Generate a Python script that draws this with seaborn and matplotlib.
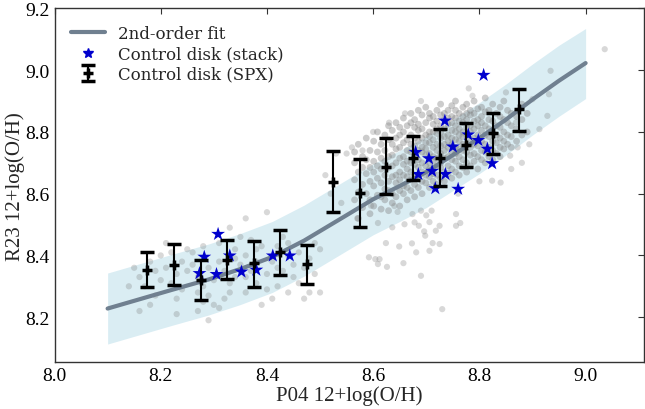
import numpy as np
import pandas as pd
import seaborn as sns
import matplotlib
matplotlib.use("Agg")
import matplotlib.pyplot as plt
from matplotlib.lines import Line2D

# 2nd-order fit curve and its band
fit_x = [8.10, 8.16, 8.22, 8.29, 8.35, 8.41, 8.47, 8.54, 8.60, 8.65, 8.70, 8.75, 8.80, 8.85, 8.90, 8.95, 9.00]
fit_y = [8.228, 8.258, 8.288, 8.322, 8.356, 8.395, 8.448, 8.520, 8.582, 8.625, 8.670, 8.725, 8.780, 8.840, 8.905, 8.966, 9.023]
band_lo = [8.113, 8.143, 8.173, 8.207, 8.241, 8.280, 8.333, 8.405, 8.467, 8.510, 8.555, 8.610, 8.665, 8.725, 8.790, 8.851, 8.908]
band_hi = [8.343, 8.373, 8.403, 8.437, 8.471, 8.510, 8.563, 8.635, 8.697, 8.740, 8.785, 8.840, 8.895, 8.955, 9.020, 9.081, 9.135]

# binned SPX values with error bars
spx_x = [8.175, 8.225, 8.275, 8.325, 8.375, 8.425, 8.475, 8.525, 8.575, 8.625, 8.675, 8.725, 8.775, 8.825, 8.875]
spx_y = [8.353, 8.370, 8.320, 8.386, 8.374, 8.410, 8.371, 8.637, 8.602, 8.688, 8.714, 8.714, 8.758, 8.796, 8.873]
spx_lo = [0.055, 0.066, 0.064, 0.063, 0.076, 0.073, 0.064, 0.097, 0.109, 0.090, 0.070, 0.090, 0.071, 0.066, 0.069]
spx_hi = [0.058, 0.067, 0.066, 0.064, 0.073, 0.072, 0.062, 0.101, 0.111, 0.091, 0.073, 0.094, 0.070, 0.066, 0.067]

# stacked spectra
stack_x = [8.308, 8.282, 8.273, 8.305, 8.330, 8.352, 8.380, 8.411, 8.443,
           8.680, 8.685, 8.705, 8.711, 8.717, 8.735, 8.736, 8.750, 8.760,
           8.779, 8.798, 8.808, 8.815, 8.824]
stack_y = [8.469, 8.395, 8.342, 8.339, 8.399, 8.347, 8.353, 8.399, 8.399,
           8.734, 8.663, 8.714, 8.673, 8.617, 8.836, 8.663, 8.752, 8.615,
           8.791, 8.773, 8.984, 8.745, 8.698]

# individual spaxels: sparse points
sparse_x = [8.16, 8.17, 8.18, 8.19, 8.20, 8.20, 8.19, 8.21, 8.16, 8.14, 8.15, 8.18,
            8.22, 8.23, 8.24, 8.22, 8.24, 8.25, 8.23, 8.21, 8.25, 8.23,
            8.26, 8.27, 8.28, 8.27, 8.29, 8.28, 8.26, 8.30, 8.29, 8.28, 8.27, 8.30, 8.29,
            8.31, 8.32, 8.33, 8.34, 8.31, 8.33, 8.35, 8.32, 8.34, 8.35, 8.33, 8.31, 8.34,
            8.36, 8.37, 8.38, 8.39, 8.36, 8.38, 8.40, 8.37, 8.39, 8.40, 8.38, 8.36,
            8.41, 8.42, 8.43, 8.44, 8.42, 8.45, 8.41, 8.44, 8.43, 8.45, 8.42, 8.44,
            8.46, 8.47, 8.48, 8.49, 8.46, 8.48, 8.47, 8.50, 8.49, 8.50, 8.36, 8.40,
            8.53, 8.55, 8.56, 8.58, 8.52, 8.54, 8.51, 8.57,
            8.596, 8.609, 8.640, 8.646, 8.624, 8.649, 8.673, 8.681, 8.592, 8.604, 8.612,
            8.609, 8.626, 8.657, 8.690, 8.730, 8.706, 8.725, 8.712, 8.698, 8.696, 8.659,
            8.678, 8.686, 8.718, 8.725, 8.756, 8.764, 8.756, 8.706, 8.700, 8.710, 8.690,
            8.674, 8.636, 8.600, 8.630, 8.660, 8.690,
            8.824, 8.840, 8.858, 8.872, 8.894, 8.913, 8.928, 8.934, 8.869, 8.850,
            8.780, 8.787, 8.900, 8.931, 9.036, 8.880, 8.860, 8.760, 8.800]
sparse_y = [8.33, 8.30, 8.38, 8.35, 8.32, 8.40, 8.27, 8.36, 8.22, 8.30, 8.36, 8.24,
            8.41, 8.34, 8.38, 8.31, 8.29, 8.42, 8.26, 8.44, 8.35, 8.21,
            8.37, 8.33, 8.30, 8.28, 8.36, 8.25, 8.41, 8.32, 8.27, 8.43, 8.22, 8.24, 8.19,
            8.38, 8.35, 8.31, 8.42, 8.44, 8.28, 8.37, 8.26, 8.33, 8.46, 8.49, 8.23, 8.39,
            8.40, 8.35, 8.31, 8.43, 8.28, 8.38, 8.34, 8.45, 8.24, 8.29, 8.42, 8.33,
            8.38, 8.43, 8.35, 8.40, 8.30, 8.37, 8.26, 8.28, 8.46, 8.33, 8.36, 8.44,
            8.41, 8.36, 8.39, 8.44, 8.31, 8.28, 8.26, 8.42, 8.34, 8.28, 8.52, 8.54,
            8.73, 8.73, 8.75, 8.74, 8.60, 8.57, 8.66, 8.52,
            8.561, 8.505, 8.560, 8.541, 8.440, 8.429, 8.439, 8.410, 8.394, 8.388, 8.388,
            8.372, 8.363, 8.375, 8.334, 8.226, 8.415, 8.437, 8.440, 8.464, 8.478, 8.501,
            8.507, 8.496, 8.480, 8.496, 8.496, 8.505, 8.534, 8.508, 8.530, 8.545, 8.545,
            8.534, 8.491, 8.800, 8.830, 8.860, 8.900,
            8.642, 8.636, 8.723, 8.750, 8.760, 8.809, 8.852, 8.998, 8.831, 8.928,
            8.941, 8.917, 8.906, 8.922, 9.068, 8.700, 8.680, 8.600, 8.640]

# individual spaxels: dense core, one column of y values per x
core_cols = [
    (8.565, [8.58, 8.645, 8.70, 8.735]),
    (8.572, [8.52, 8.605, 8.67, 8.76]),
    (8.580, [8.555, 8.63, 8.685, 8.72]),
    (8.587, [8.60, 8.665, 8.71, 8.78]),
    (8.594, [8.535, 8.58, 8.64, 8.685, 8.74]),
    (8.601, [8.56, 8.625, 8.67, 8.705, 8.77]),
    (8.608, [8.595, 8.65, 8.69, 8.735, 8.80]),
    (8.615, [8.55, 8.59, 8.635, 8.68, 8.715, 8.76]),
    (8.622, [8.58, 8.615, 8.66, 8.705, 8.74, 8.79]),
    (8.629, [8.545, 8.61, 8.64, 8.685, 8.72, 8.775, 8.82]),
    (8.636, [8.57, 8.60, 8.655, 8.69, 8.725, 8.76, 8.805]),
    (8.643, [8.59, 8.635, 8.66, 8.70, 8.745, 8.78, 8.83]),
    (8.650, [8.56, 8.61, 8.645, 8.67, 8.715, 8.75, 8.79, 8.815]),
    (8.657, [8.60, 8.625, 8.66, 8.695, 8.72, 8.765, 8.80, 8.845]),
    (8.664, [8.58, 8.62, 8.655, 8.68, 8.705, 8.74, 8.775, 8.82]),
    (8.671, [8.61, 8.645, 8.67, 8.70, 8.735, 8.76, 8.79, 8.83, 8.86]),
    (8.678, [8.59, 8.63, 8.66, 8.695, 8.72, 8.755, 8.78, 8.815, 8.84]),
    (8.685, [8.62, 8.65, 8.685, 8.71, 8.74, 8.77, 8.805, 8.825, 8.87]),
    (8.692, [8.60, 8.64, 8.67, 8.70, 8.735, 8.75, 8.78, 8.81, 8.855]),
    (8.699, [8.635, 8.66, 8.69, 8.725, 8.745, 8.765, 8.79, 8.83, 8.88]),
    (8.706, [8.62, 8.655, 8.68, 8.70, 8.73, 8.765, 8.785, 8.80, 8.845, 8.86]),
    (8.713, [8.64, 8.665, 8.705, 8.72, 8.75, 8.775, 8.80, 8.825, 8.85]),
    (8.720, [8.63, 8.66, 8.69, 8.715, 8.74, 8.76, 8.795, 8.81, 8.835, 8.87]),
    (8.727, [8.65, 8.685, 8.70, 8.73, 8.755, 8.78, 8.80, 8.82, 8.855, 8.89]),
    (8.734, [8.64, 8.67, 8.715, 8.74, 8.76, 8.785, 8.81, 8.84, 8.86]),
    (8.741, [8.665, 8.69, 8.72, 8.75, 8.77, 8.79, 8.825, 8.845, 8.87]),
    (8.748, [8.65, 8.68, 8.71, 8.735, 8.76, 8.78, 8.805, 8.83, 8.85, 8.885]),
    (8.755, [8.67, 8.705, 8.73, 8.75, 8.775, 8.80, 8.82, 8.845, 8.87, 8.90]),
    (8.762, [8.66, 8.69, 8.72, 8.745, 8.77, 8.79, 8.81, 8.835, 8.86]),
    (8.769, [8.685, 8.71, 8.74, 8.76, 8.785, 8.80, 8.83, 8.85, 8.88]),
    (8.776, [8.67, 8.70, 8.735, 8.76, 8.79, 8.815, 8.84, 8.86, 8.89]),
    (8.783, [8.69, 8.725, 8.75, 8.775, 8.80, 8.82, 8.855, 8.87]),
    (8.790, [8.705, 8.73, 8.76, 8.78, 8.81, 8.835, 8.86, 8.90]),
    (8.797, [8.68, 8.72, 8.755, 8.79, 8.82, 8.84, 8.875]),
    (8.804, [8.71, 8.74, 8.77, 8.805, 8.83, 8.85, 8.88]),
    (8.811, [8.70, 8.735, 8.76, 8.79, 8.82, 8.865, 8.91]),
    (8.818, [8.72, 8.75, 8.785, 8.81, 8.84, 8.87]),
    (8.825, [8.71, 8.74, 8.77, 8.80, 8.835, 8.89]),
    (8.832, [8.73, 8.765, 8.79, 8.82, 8.86]),
    (8.839, [8.72, 8.75, 8.78, 8.815, 8.85, 8.88]),
    (8.846, [8.745, 8.77, 8.80, 8.84, 8.90]),
    (8.853, [8.76, 8.79, 8.83, 8.87]),
    (8.860, [8.75, 8.785, 8.82, 8.86]),
    (8.870, [8.77, 8.81, 8.85]),
    (8.880, [8.79, 8.84, 8.89]),
    (8.890, [8.80, 8.86]),
]

core_x = [x for x, ys in core_cols for _ in ys]
core_y = [y for _, ys in core_cols for y in ys]
sparse_df = pd.DataFrame({"x": sparse_x, "y": sparse_y})
core_df = pd.DataFrame({"x": core_x, "y": core_y})
stack_df = pd.DataFrame({"x": stack_x, "y": stack_y})
fit_df = pd.DataFrame({"x": fit_x, "y": fit_y})

sns.set_style("white")
plt.rcParams["font.family"] = ["DejaVu Serif"]

fig = plt.figure(figsize=(6.45, 4.10), dpi=100)
ax = fig.add_axes([0.0845, 0.114, 0.914, 0.863])

ax.fill_between(fit_x, band_lo, band_hi, color="lightblue", alpha=0.45, linewidth=0, zorder=1)
sns.scatterplot(data=sparse_df, x="x", y="y", color="gray", alpha=0.3, s=20,
                edgecolor="none", ax=ax, zorder=2, legend=False)
sns.scatterplot(data=core_df, x="x", y="y", color="gray", alpha=0.4, s=24,
                edgecolor="none", ax=ax, zorder=2, legend=False)
sns.lineplot(data=fit_df, x="x", y="y", color="slategray", linewidth=3,
             sort=False, estimator=None, ax=ax, zorder=3)
sns.scatterplot(data=stack_df, x="x", y="y", marker="*", color="mediumblue",
                s=110, edgecolor="none", ax=ax, zorder=4, legend=False)
eb = ax.errorbar(spx_x, spx_y, yerr=[spx_lo, spx_hi], fmt="+", color="black",
                 ms=7, mew=2.5, elinewidth=1.5, capsize=5, capthick=1.5, zorder=5)

ax.set_xlim(8.0, 9.11)
ax.set_ylim(8.054, 9.2)
ax.set_xticks([8.0, 8.2, 8.4, 8.6, 8.8, 9.0])
ax.set_yticks([8.2, 8.4, 8.6, 8.8, 9.0, 9.2])
ax.tick_params(direction="in", top=True, right=True, length=4, width=0.8,
               labelsize=14, colors="#333333", labelcolor="black")
for lab in ax.get_xticklabels() + ax.get_yticklabels():
    lab.set_family("Liberation Serif")
for sp in ax.spines.values():
    sp.set_color("#333333")
    sp.set_linewidth(1.0)

ax.set_xlabel("P04 12+log(O/H)", fontsize=15, family="Liberation Serif", labelpad=1)
ax.set_ylabel("R23 12+log(O/H)", fontsize=15, family="Liberation Serif", labelpad=0)

handles = [Line2D([], [], color="slategray", lw=3),
           Line2D([], [], marker="*", color="mediumblue", ls="none", ms=7),
           eb]
ax.legend(handles, ["2nd-order fit", "Control disk (stack)", "Control disk (SPX)"],
          loc="upper left", frameon=False, fontsize=12, handlelength=2.0,
          borderaxespad=0.6, labelspacing=0.2)

fig.savefig("out.png", dpi=100)
